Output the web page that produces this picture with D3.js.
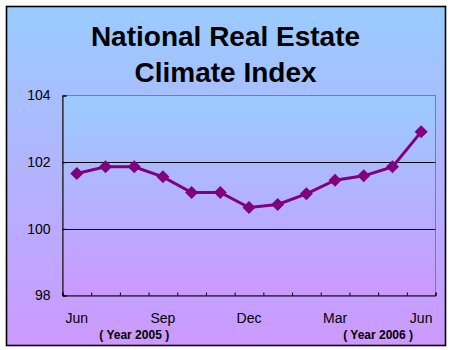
<!DOCTYPE html>
<html><head><meta charset="utf-8">
<script src="https://cdn.jsdelivr.net/npm/d3@7"></script>
<style>body{margin:0;background:#fff}svg{display:block}text{font-family:"Liberation Sans",Arial,sans-serif}</style>
</head><body>
<script>
const months = ["Jun","Jul","Aug","Sep","Oct","Nov","Dec","Jan","Feb","Mar","Apr","May","Jun"];
const values = [101.66,101.86,101.86,101.56,101.09,101.09,100.64,100.73,101.05,101.46,101.59,101.86,102.91];
const yTicks = [98,100,102,104];
const gridValues = [100,102];
const titleLines = ["National Real Estate","Climate Index"];
const yearLabels = [{text:"( Year 2005 )", idx:2},{text:"( Year 2006 )", idx:10.5}];

const W=450,H=350;
const svg=d3.select("body").append("svg").attr("width",W).attr("height",H);
const defs=svg.append("defs");
const g1=defs.append("linearGradient").attr("id","bg").attr("x1",0).attr("y1",0).attr("x2",0).attr("y2",1);
g1.append("stop").attr("offset","0%").attr("stop-color","#99CCFF");
g1.append("stop").attr("offset","100%").attr("stop-color","#CC99FF");

svg.append("rect").attr("x",6.5).attr("y",6.5).attr("width",439).attr("height",339)
  .attr("fill","url(#bg)").attr("stroke","#000").attr("stroke-width",1.6);

svg.selectAll("text.title").data(titleLines).join("text").attr("class","title")
  .attr("x",225.5).attr("y",(d,i)=>46+i*36).attr("text-anchor","middle")
  .attr("font-size",28).attr("font-weight","bold").attr("fill","#000").text(d=>d);

const L=62.5,R=435.5,T=95.5,B=295.5;
const x=d3.scaleBand().domain(d3.range(months.length)).range([L,R]).padding(0);
const xb=d3.scaleLinear().domain([0,months.length]).range([L,R]);
const y=d3.scaleLinear().domain([98,104]).range([B,T]);

svg.append("rect").attr("x",L).attr("y",T).attr("width",R-L).attr("height",B-T)
  .attr("fill","url(#bg)").attr("stroke","#808080").attr("stroke-width",1);

svg.selectAll("line.grid").data(gridValues).join("line").attr("class","grid")
  .attr("x1",L).attr("x2",R).attr("y1",d=>Math.round(y(d))+0.5).attr("y2",d=>Math.round(y(d))+0.5)
  .attr("stroke","#000").attr("stroke-width",1);

// y axis
const ya=svg.append("g").attr("transform",`translate(${L},0)`)
  .call(d3.axisLeft(y).tickValues(yTicks).tickSize(-4).tickPadding(12).tickFormat(d3.format("d")));
ya.attr("font-size",14).attr("font-family","'Liberation Sans',Arial,sans-serif");
ya.select(".domain").attr("stroke","#000");
ya.selectAll("line").attr("stroke","#000");
ya.selectAll("text").attr("fill","#000");

// x axis tick marks at boundaries
const xt=svg.append("g").attr("transform",`translate(0,${B})`)
  .call(d3.axisBottom(xb).tickValues(d3.range(months.length+1)).tickSize(-3).tickFormat(""));
xt.select(".domain").attr("stroke","#000");
xt.selectAll("line").attr("stroke","#000");

// x labels
const xl=svg.append("g").attr("transform",`translate(0,${B})`)
  .call(d3.axisBottom(x).tickSize(0).tickPadding(0).tickFormat(i=>i%3===0?months[i]:""));
xl.attr("font-size",14).attr("font-family","'Liberation Sans',Arial,sans-serif");
xl.select(".domain").remove();
xl.selectAll("text").attr("fill","#000").attr("dy",null).attr("y",27);

svg.selectAll("text.year").data(yearLabels).join("text").attr("class","year")
  .attr("x",d=>x.bandwidth()/2+L+d.idx*x.bandwidth()).attr("y",339).attr("text-anchor","middle")
  .attr("font-size",12).attr("font-weight","bold").attr("fill","#000").text(d=>d.text);

const cx=i=>x(i)+x.bandwidth()/2;
svg.append("path").datum(values)
  .attr("d",d3.line().x((d,i)=>cx(i)).y(d=>y(d)))
  .attr("fill","none").attr("stroke","#800080").attr("stroke-width",3);

svg.selectAll("path.mk").data(values).join("path").attr("class","mk")
  .attr("d",d3.symbol(d3.symbolSquare,85)())
  .attr("transform",(d,i)=>`translate(${cx(i)},${y(d)}) rotate(45)`)
  .attr("fill","#800080");
</script>
</body></html>
